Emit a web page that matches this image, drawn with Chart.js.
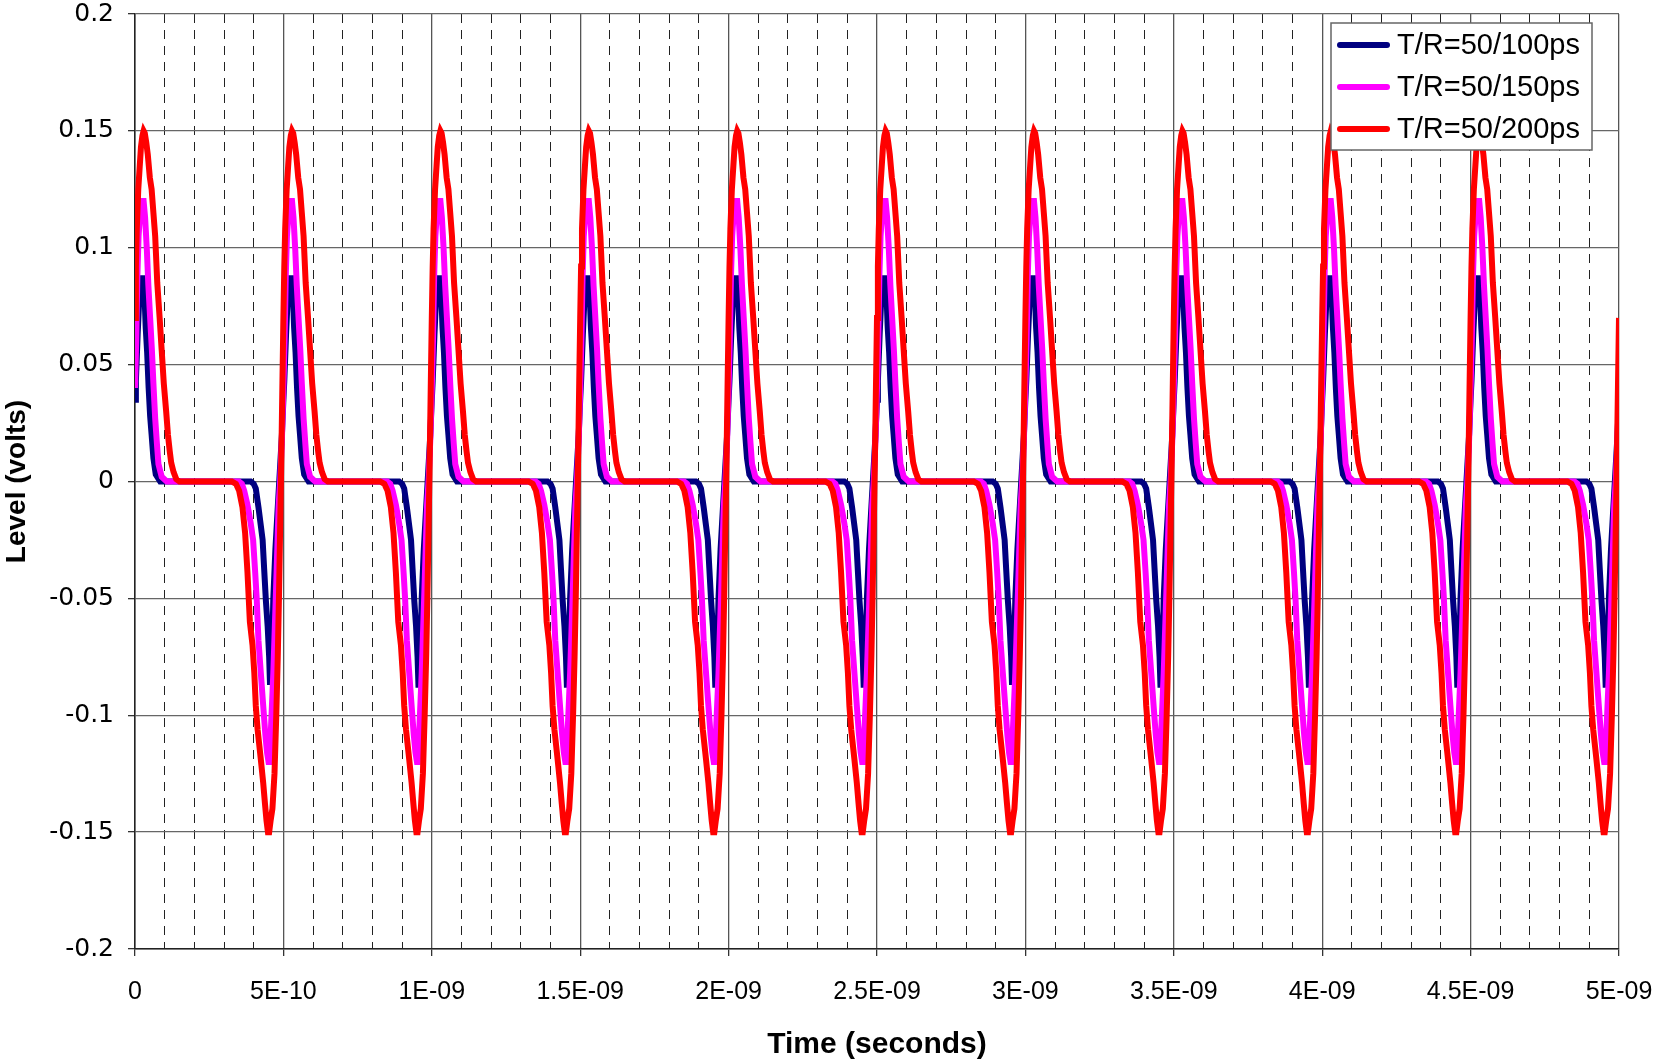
<!DOCTYPE html>
<html>
<head>
<meta charset="utf-8">
<script src="https://cdn.jsdelivr.net/npm/chart.js@4.4.0/dist/chart.umd.min.js"></script>
<style>
html, body { margin: 0; padding: 0; background: #fff; }
</style>
</head>
<body>
<canvas id="levelChart" width="1659" height="1060"></canvas>
<script>
// one 500 ps period of each trace (time in ps, level in volts)
const periodPs = 500;
const periodCount = 10;

const navyTimes  = [0, 3, 9, 15, 20, 28, 32, 36, 41, 46, 51, 56, 62, 70, 85,
                    390, 400, 407, 416, 424, 430, 435, 441, 447, 452, 455, 458, 462, 466, 473, 481, 486, 495, 500];
const navyLevels = [0.035, 0.043, 0.063, 0.08, 0.087, 0.087, 0.08, 0.066, 0.055, 0.04, 0.028, 0.02, 0.01, 0.003, 0,
                    0, -0.001, -0.003, -0.011, -0.019, -0.025, -0.037, -0.051, -0.062, -0.075, -0.087, -0.087, -0.074, -0.05, -0.029, -0.011, 0, 0.02, 0.035];

const magentaTimes  = [0, 4, 8, 12, 18, 23, 29, 34, 40, 45, 51, 57, 62, 68, 74, 79, 90, 107,
                       350, 360, 368, 379, 390, 398, 405, 410, 416, 424, 432, 439, 445, 450, 453, 458, 466, 475, 484, 489, 495, 500];
const magentaLevels = [0.04, 0.06, 0.088, 0.105, 0.116, 0.12, 0.12, 0.113, 0.099, 0.084, 0.07, 0.056, 0.042, 0.027, 0.016, 0.0075, 0.002, 0,
                       0, -0.001, -0.004, -0.01, -0.018, -0.025, -0.039, -0.05, -0.068, -0.082, -0.096, -0.108, -0.116, -0.12, -0.12, -0.106, -0.082, -0.047, -0.01, 0, 0.018, 0.04];

const redTimes  = [0, 3, 6, 11, 16, 20, 25, 29, 33, 38, 43, 50, 56, 62, 68, 75, 83, 90, 97, 105, 111, 117, 122, 130, 139, 150,
                   326, 340, 351, 362, 371, 379, 387, 396, 402, 407, 413, 424, 432, 438, 443, 448, 452, 457, 463, 470, 476, 481, 485, 489, 493, 497, 500];
const redLevels = [0.07, 0.092, 0.108, 0.125, 0.135, 0.143, 0.148, 0.15, 0.149, 0.145, 0.14, 0.13, 0.125, 0.115, 0.105, 0.085, 0.07, 0.056, 0.042, 0.03, 0.02, 0.013, 0.008, 0.004, 0.001, 0,
                   0, -0.001, -0.004, -0.011, -0.022, -0.039, -0.06, -0.07, -0.082, -0.096, -0.106, -0.119, -0.129, -0.138, -0.145, -0.15, -0.15, -0.145, -0.14, -0.125, -0.1, -0.075, -0.05, -0.02, 0.01, 0.045, 0.07];

const seriesLabels = ['T/R=50/100ps', 'T/R=50/150ps', 'T/R=50/200ps'];
const seriesColors = ['#000080', '#ff00ff', '#ff0000'];

const xTickLabels = ['0', '5E-10', '1E-09', '1.5E-09', '2E-09', '2.5E-09', '3E-09', '3.5E-09', '4E-09', '4.5E-09', '5E-09'];
const yTickLabels = ['-0.2', '-0.15', '-0.1', '-0.05', '0', '0.05', '0.1', '0.15', '0.2'];

// the same pulse repeats every period, so lay the read period end to end
function buildTrace(times, levels) {
    var pts = [];
    for (var p = 0; p < periodCount; p++) {
        for (var i = 0; i < times.length; i++) {
            if (p > 0 && i === 0) continue;
            pts.push({ x: (p * periodPs + times[i]) * 1e-12, y: levels[i] });
        }
    }
    return pts;
}

function isMajor(value) {
    return Math.round(value / 1e-10) % 5 === 0;
}

const sans = '"Liberation Sans", Arial, sans-serif';

// legend box sits inside the plot, top right, over the traces
const boxLegend = {
    id: 'boxLegend',
    afterDatasetsDraw(chart) {
        const ctx = chart.ctx;
        const area = chart.chartArea;
        const left = area.right - 288, top = area.top + 9;
        const w = 261, h = 127;
        ctx.save();
        ctx.fillStyle = '#fff';
        ctx.fillRect(left, top, w, h);
        ctx.strokeStyle = '#666';
        ctx.lineWidth = 1.5;
        ctx.strokeRect(left, top, w, h);
        ctx.font = '29px ' + sans;
        ctx.textBaseline = 'middle';
        ctx.lineCap = 'round';
        for (var i = 0; i < seriesLabels.length; i++) {
            const y = top + 22 + i * 42;
            ctx.strokeStyle = seriesColors[i];
            ctx.lineWidth = 6;
            ctx.beginPath();
            ctx.moveTo(left + 9, y);
            ctx.lineTo(left + 56, y);
            ctx.stroke();
            ctx.fillStyle = '#000';
            ctx.fillText(seriesLabels[i], left + 66, y + 1);
        }
        ctx.restore();
    }
};

const orders = [2, 1, 0];
const traces = [
    buildTrace(navyTimes, navyLevels),
    buildTrace(magentaTimes, magentaLevels),
    buildTrace(redTimes, redLevels)
];

new Chart(document.getElementById('levelChart').getContext('2d'), {
    type: 'line',
    data: {
        datasets: traces.map(function (pts, i) {
            return {
                label: seriesLabels[i],
                data: pts,
                borderColor: seriesColors[i],
                backgroundColor: seriesColors[i],
                borderWidth: 6,
                pointRadius: 0,
                tension: 0,
                fill: false,
                order: orders[i]
            };
        })
    },
    options: {
        responsive: false,
        animation: false,
        layout: { padding: { top: 14, right: 40, left: 0, bottom: 0 } },
        plugins: {
            legend: { display: false },
            tooltip: { enabled: false }
        },
        scales: {
            x: {
                type: 'linear',
                min: 0,
                max: 5e-9,
                afterFit: function (scale) {
                    scale.height = 111;
                    scale.paddingLeft = 0;
                    scale.paddingRight = 0;
                },
                ticks: {
                    stepSize: 1e-10,
                    autoSkip: false,
                    maxRotation: 0,
                    padding: 21,
                    color: '#000',
                    font: { family: sans, size: 25 },
                    callback: function (value) {
                        if (!isMajor(value)) return '';
                        return xTickLabels[Math.round(value / 5e-10)];
                    }
                },
                grid: {
                    color: function (c) { return c.tick && isMajor(c.tick.value) ? '#555' : '#222'; },
                    lineWidth: function (c) { return c.tick && isMajor(c.tick.value) ? 1.3 : 1; },
                    tickColor: function (c) { return c.tick && isMajor(c.tick.value) ? '#333' : 'rgba(0,0,0,0)'; },
                    tickLength: 7
                },
                border: {
                    color: '#222',
                    width: 1.5,
                    dash: function (c) { return c.tick && !isMajor(c.tick.value) ? [9, 7] : []; }
                },
                title: {
                    display: true,
                    text: 'Time (seconds)',
                    color: '#000',
                    font: { family: sans, size: 30, weight: 'bold' },
                    padding: { top: 0, bottom: -3 }
                }
            },
            y: {
                min: -0.2,
                max: 0.2,
                afterFit: function (scale) {
                    scale.width = 135;
                    scale.paddingTop = 0;
                    scale.paddingBottom = 0;
                },
                ticks: {
                    stepSize: 0.05,
                    padding: 14,
                    color: '#000',
                    font: { family: '"DejaVu Sans", sans-serif', size: 25 },
                    callback: function (value) {
                        return yTickLabels[Math.round((value + 0.2) / 0.05)];
                    }
                },
                grid: {
                    color: '#666',
                    lineWidth: 1.3,
                    tickColor: '#333',
                    tickLength: 7
                },
                border: { color: '#222', width: 1.5 },
                title: {
                    display: true,
                    text: 'Level (volts)',
                    color: '#000',
                    font: { family: sans, size: 28, weight: 'bold' },
                    padding: { top: 0, bottom: 0 }
                }
            }
        }
    },
    plugins: [boxLegend]
});
</script>
</body>
</html>
